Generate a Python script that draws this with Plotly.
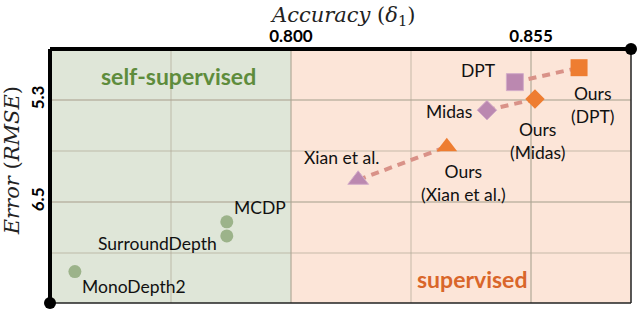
import plotly.graph_objects as go

# ---- data ----
self_names = ["MonoDepth2", "SurroundDepth", "MCDP"]
self_acc = [0.7505, 0.7853, 0.7853]
self_err = [7.32, 6.90, 6.735]

base_names = ["DPT", "Midas", "Xian et al."]
base_acc = [0.8513, 0.8449, 0.8154]
base_err = [5.09, 5.42, 6.24]

ours_names = ["Ours<br>(DPT)", "Ours<br>(Midas)", "Ours<br>(Xian et al.)"]
ours_acc = [0.8660, 0.8559, 0.8357]
ours_err = [4.92, 5.29, 5.85]

symbols = ["square", "diamond", "triangle-up"]
marker_sizes = [17, 15, 18]

x_ticks = [0.800, 0.855]
x_labels = ["0.800", "0.855"]
x_grid = [0.7725, 0.800, 0.8275, 0.855]
y_ticks = [5.3, 6.5]
y_labels = ["5.3", "6.5"]
y_grid = [5.3, 5.9, 6.5, 7.1]
x_range = [0.7448, 0.8779]
y_range = [7.69, 4.70]
split_acc = 0.800

PURPLE = "#bb88b0"
ORANGE = "#ee7d31"
GREEN_DOT = "#9cb38a"
LINE_C = "#d99288"
FONT = "Lato"
GRID_C = "rgba(175,165,150,0.35)"

fig = go.Figure()

# dashed connections baseline -> ours
for i in range(3):
    fig.add_trace(go.Scatter(
        x=[base_acc[i], ours_acc[i]], y=[base_err[i], ours_err[i]],
        mode="lines", line=dict(color=LINE_C, width=4, dash="8px,6px"),
        hoverinfo="skip", showlegend=False))

fig.add_trace(go.Scatter(
    x=self_acc, y=self_err, mode="markers",
    marker=dict(color=GREEN_DOT, size=13), showlegend=False))

for i in range(3):
    fig.add_trace(go.Scatter(
        x=[base_acc[i]], y=[base_err[i]], mode="markers",
        marker=dict(color=PURPLE, size=marker_sizes[i], symbol=symbols[i],
                    line=dict(color="#d3acc8", width=1)),
        showlegend=False))
    fig.add_trace(go.Scatter(
        x=[ours_acc[i]], y=[ours_err[i]], mode="markers",
        marker=dict(color=ORANGE, size=marker_sizes[i], symbol=symbols[i]),
        showlegend=False))

# region backgrounds
fig.add_shape(type="rect", xref="x", yref="paper", x0=x_range[0], x1=split_acc,
              y0=0, y1=1, fillcolor="#dfe6d8", line_width=0, layer="below")
fig.add_shape(type="rect", xref="x", yref="paper", x0=split_acc, x1=x_range[1],
              y0=0, y1=1, fillcolor="#fce5d8", line_width=0, layer="below")

# frame: thick left/top, thin right/bottom
fig.add_shape(type="line", xref="paper", yref="paper", x0=1, x1=1, y0=0, y1=1,
              line=dict(color="#222222", width=1.5))
fig.add_shape(type="line", xref="paper", yref="paper", x0=0, x1=1, y0=0, y1=0,
              line=dict(color="#222222", width=1.5))
fig.add_shape(type="line", xref="paper", yref="paper", x0=0, x1=0, y0=0, y1=1,
              line=dict(color="black", width=4))
fig.add_shape(type="line", xref="paper", yref="paper", x0=0, x1=1, y0=1, y1=1,
              line=dict(color="black", width=4))
# corner dots
for (px, py) in [(0, 0), (1, 1)]:
    fig.add_shape(type="circle", xref="paper", yref="paper", xsizemode="pixel",
                  ysizemode="pixel", xanchor=px, yanchor=py,
                  x0=-6, x1=6, y0=-6, y1=6, fillcolor="black", line_width=0)

ann = []
lab_font = dict(family=FONT, size=17.5, color="#111111")
# self-supervised labels
ann.append(dict(x=self_acc[0], y=self_err[0], text=self_names[0], xanchor="left",
                yanchor="middle", xshift=5, yshift=-15, showarrow=False, font=lab_font))
ann.append(dict(x=self_acc[1], y=self_err[1], text=self_names[1], xanchor="right",
                yanchor="middle", xshift=-8, yshift=-8, showarrow=False, font=lab_font))
ann.append(dict(x=self_acc[2], y=self_err[2], text=self_names[2], xanchor="left",
                yanchor="middle", xshift=5, yshift=14, showarrow=False, font=lab_font))
# baselines
ann.append(dict(x=base_acc[0], y=base_err[0], text=base_names[0], xanchor="right",
                yanchor="middle", xshift=-17, yshift=12, showarrow=False, font=lab_font))
ann.append(dict(x=base_acc[1], y=base_err[1], text=base_names[1], xanchor="right",
                yanchor="middle", xshift=-13, yshift=-1, showarrow=False, font=lab_font))
ann.append(dict(x=base_acc[2], y=base_err[2], text=base_names[2], xanchor="center",
                yanchor="middle", xshift=-17, yshift=22, showarrow=False, font=lab_font))
# ours
ann.append(dict(x=ours_acc[0], y=ours_err[0], text=ours_names[0], xanchor="center",
                yanchor="top", xshift=14, yshift=-13, showarrow=False, font=lab_font))
ann.append(dict(x=ours_acc[1], y=ours_err[1], text=ours_names[1], xanchor="center",
                yanchor="top", xshift=3, yshift=-18, showarrow=False, font=lab_font))
ann.append(dict(x=ours_acc[2], y=ours_err[2], text=ours_names[2], xanchor="center",
                yanchor="top", xshift=17, yshift=-12, showarrow=False, font=lab_font))
# region titles
ann.append(dict(xref="paper", yref="paper", x=0.222, y=0.894, xanchor="center",
                yanchor="middle", text="<b>self-supervised</b>",
                showarrow=False, font=dict(family=FONT, size=23, color="#5e8c3c")))
ann.append(dict(xref="paper", yref="paper", x=0.726, y=0.095, xanchor="center",
                yanchor="middle", text="<b>supervised</b>",
                showarrow=False, font=dict(family=FONT, size=23, color="#d9662a")))
# axis titles
ann.append(dict(xref="paper", yref="paper", x=0.504, y=1.128, xanchor="center",
                yanchor="middle", text="<i>Accuracy</i> (<i>δ</i><sub>1</sub>)",
                showarrow=False,
                font=dict(family="DejaVu Serif", size=21, color="#222222")))
ann.append(dict(xref="paper", yref="paper", x=-0.065, y=0.559, xanchor="center",
                yanchor="middle", text="<i>Error</i> (<i>RMSE</i>)", showarrow=False,
                textangle=-90,
                font=dict(family="DejaVu Serif", size=21, color="#222222")))

tick_font = dict(family=FONT, size=17, color="black", weight="bold")
fig.update_layout(
    width=640, height=311,
    margin=dict(l=50, r=9, t=49, b=8),
    paper_bgcolor="white", plot_bgcolor="white",
    annotations=ann,
    xaxis=dict(side="top", range=x_range, tickvals=x_ticks, ticktext=x_labels,
               showgrid=True, gridcolor=GRID_C, gridwidth=1.5, automargin=False,
               ticklabelstandoff=3,
               minor=dict(tickvals=x_grid, showgrid=True, gridcolor=GRID_C, gridwidth=1.5),
               zeroline=False, showline=False, ticks="", tickfont=tick_font),
    yaxis=dict(range=y_range, tickvals=y_ticks, ticktext=y_labels, tickangle=-90,
               showgrid=True, gridcolor=GRID_C, gridwidth=1.5, automargin=False,
               ticklabelstandoff=2,
               minor=dict(tickvals=y_grid, showgrid=True, gridcolor=GRID_C, gridwidth=1.5),
               zeroline=False, showline=False, ticks="", tickfont=tick_font),
)

fig.write_html("out.html", config={"displayModeBar": False},
               post_script="document.body.style.margin='0';")
